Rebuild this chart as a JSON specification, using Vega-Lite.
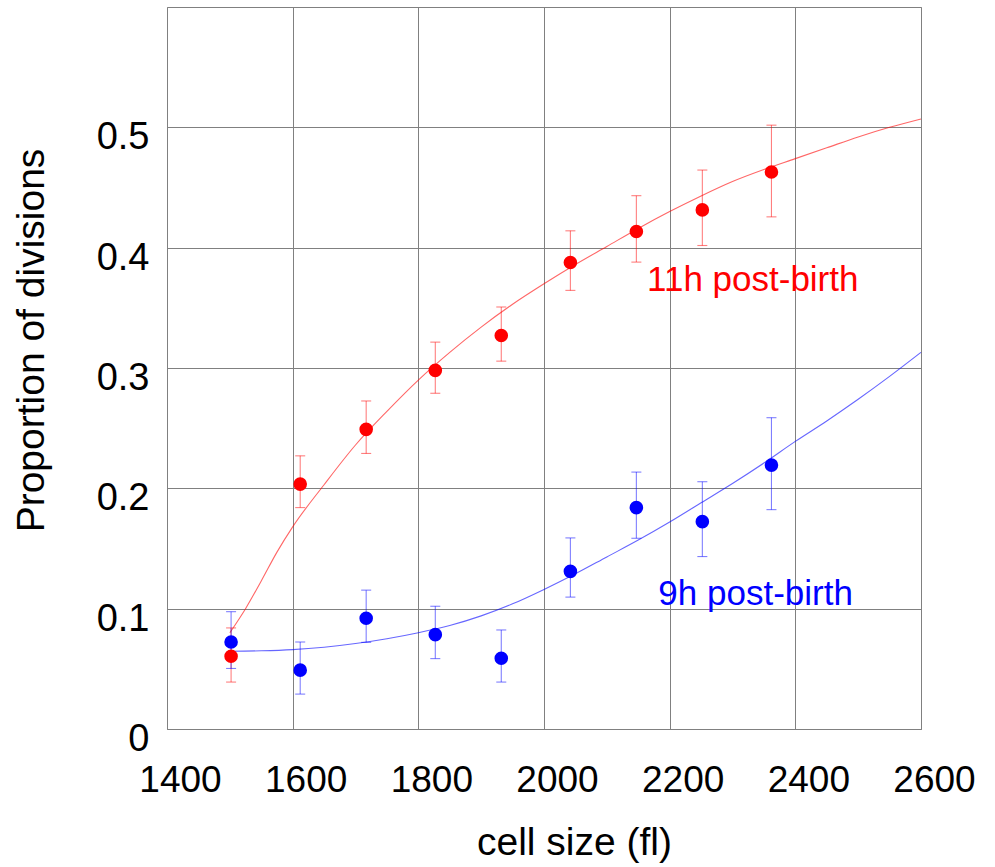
{
  "$schema": "https://vega.github.io/schema/vega-lite/v6.json",
  "autosize": {"type": "none"},
  "padding": {"left": 167, "top": 7, "right": 74, "bottom": 138},
  "width": 754,
  "height": 722,
  "background": "white",
  "config": {
    "font": "Liberation Sans",
    "view": {"stroke": "#808080", "strokeWidth": 1},
    "axis": {"gridColor": "#808080", "gridOpacity": 1, "gridWidth": 1, "domain": false, "ticks": false, "tickSize": 0, "labelColor": "#000", "titleColor": "#000", "titleFontWeight": "normal"}
  },
  "datasets": {
    "points": [
      {"size": 1502, "prop": 0.0605, "lo": 0.039, "hi": 0.084, "series": "11h"},
      {"size": 1612, "prop": 0.2035, "lo": 0.184, "hi": 0.227, "series": "11h"},
      {"size": 1717, "prop": 0.249, "lo": 0.229, "hi": 0.2726, "series": "11h"},
      {"size": 1827, "prop": 0.298, "lo": 0.279, "hi": 0.3215, "series": "11h"},
      {"size": 1932, "prop": 0.327, "lo": 0.3057, "hi": 0.3507, "series": "11h"},
      {"size": 2042, "prop": 0.3877, "lo": 0.3645, "hi": 0.414, "series": "11h"},
      {"size": 2147, "prop": 0.4134, "lo": 0.388, "hi": 0.4432, "series": "11h"},
      {"size": 2252, "prop": 0.4314, "lo": 0.4018, "hi": 0.4645, "series": "11h"},
      {"size": 2362, "prop": 0.4629, "lo": 0.4256, "hi": 0.5018, "series": "11h"},
      {"size": 1502, "prop": 0.0723, "lo": 0.0503, "hi": 0.0975, "series": "9h"},
      {"size": 1612, "prop": 0.0489, "lo": 0.029, "hi": 0.0723, "series": "9h"},
      {"size": 1717, "prop": 0.092, "lo": 0.072, "hi": 0.1154, "series": "9h"},
      {"size": 1827, "prop": 0.0784, "lo": 0.0585, "hi": 0.102, "series": "9h"},
      {"size": 1932, "prop": 0.0588, "lo": 0.039, "hi": 0.0823, "series": "9h"},
      {"size": 2042, "prop": 0.131, "lo": 0.1096, "hi": 0.1588, "series": "9h"},
      {"size": 2147, "prop": 0.184, "lo": 0.1585, "hi": 0.2135, "series": "9h"},
      {"size": 2252, "prop": 0.1723, "lo": 0.1433, "hi": 0.2055, "series": "9h"},
      {"size": 2362, "prop": 0.2193, "lo": 0.1823, "hi": 0.2587, "series": "9h"}
    ],
    "fits": [
      {"size": 1500, "prop": 0.08, "series": "11h"},
      {"size": 1525, "prop": 0.10, "series": "11h"},
      {"size": 1550, "prop": 0.123, "series": "11h"},
      {"size": 1575, "prop": 0.147, "series": "11h"},
      {"size": 1600, "prop": 0.168, "series": "11h"},
      {"size": 1650, "prop": 0.203, "series": "11h"},
      {"size": 1700, "prop": 0.236, "series": "11h"},
      {"size": 1750, "prop": 0.264, "series": "11h"},
      {"size": 1800, "prop": 0.29, "series": "11h"},
      {"size": 1850, "prop": 0.313, "series": "11h"},
      {"size": 1900, "prop": 0.334, "series": "11h"},
      {"size": 1950, "prop": 0.353, "series": "11h"},
      {"size": 2000, "prop": 0.37, "series": "11h"},
      {"size": 2050, "prop": 0.386, "series": "11h"},
      {"size": 2100, "prop": 0.401, "series": "11h"},
      {"size": 2150, "prop": 0.416, "series": "11h"},
      {"size": 2200, "prop": 0.43, "series": "11h"},
      {"size": 2250, "prop": 0.443, "series": "11h"},
      {"size": 2300, "prop": 0.455, "series": "11h"},
      {"size": 2350, "prop": 0.465, "series": "11h"},
      {"size": 2400, "prop": 0.474, "series": "11h"},
      {"size": 2450, "prop": 0.483, "series": "11h"},
      {"size": 2500, "prop": 0.492, "series": "11h"},
      {"size": 2550, "prop": 0.50, "series": "11h"},
      {"size": 2600, "prop": 0.507, "series": "11h"},
      {"size": 1500, "prop": 0.0646, "series": "9h"},
      {"size": 1550, "prop": 0.065, "series": "9h"},
      {"size": 1600, "prop": 0.066, "series": "9h"},
      {"size": 1650, "prop": 0.068, "series": "9h"},
      {"size": 1700, "prop": 0.071, "series": "9h"},
      {"size": 1750, "prop": 0.075, "series": "9h"},
      {"size": 1800, "prop": 0.080, "series": "9h"},
      {"size": 1850, "prop": 0.086, "series": "9h"},
      {"size": 1900, "prop": 0.094, "series": "9h"},
      {"size": 1950, "prop": 0.104, "series": "9h"},
      {"size": 2000, "prop": 0.116, "series": "9h"},
      {"size": 2050, "prop": 0.129, "series": "9h"},
      {"size": 2100, "prop": 0.143, "series": "9h"},
      {"size": 2150, "prop": 0.157, "series": "9h"},
      {"size": 2200, "prop": 0.172, "series": "9h"},
      {"size": 2250, "prop": 0.188, "series": "9h"},
      {"size": 2300, "prop": 0.204, "series": "9h"},
      {"size": 2350, "prop": 0.221, "series": "9h"},
      {"size": 2400, "prop": 0.239, "series": "9h"},
      {"size": 2450, "prop": 0.256, "series": "9h"},
      {"size": 2500, "prop": 0.274, "series": "9h"},
      {"size": 2550, "prop": 0.293, "series": "9h"},
      {"size": 2600, "prop": 0.313, "series": "9h"}
    ],
    "labels": [
      {"size": 2164, "prop": 0.3637, "text": "11h post-birth", "series": "11h"},
      {"size": 2182, "prop": 0.1027, "text": "9h post-birth", "series": "9h"}
    ]
  },
  "encoding": {
    "x": {
      "field": "size", "type": "quantitative",
      "scale": {"domain": [1400, 2600], "nice": false, "zero": false},
      "axis": {
        "values": [1400, 1600, 1800, 2000, 2200, 2400, 2600],
        "format": "d",
        "labelFontSize": 37, "labelOffset": 13, "labelBaseline": "alphabetic", "labelPadding": 62,
        "labelFlush": false, "labelOverlap": false,
        "title": "cell size (fl)", "titleFontSize": 39,
        "titleX": 407, "titleY": 125, "titleBaseline": "alphabetic", "titleAlign": "center"
      }
    },
    "y": {
      "field": "prop", "type": "quantitative",
      "scale": {"domain": [0, 0.6], "nice": false},
      "axis": {
        "values": [0, 0.1, 0.2, 0.3, 0.4, 0.5],
        "format": ".1~f",
        "labelFontSize": 38, "labelOffset": 21.5, "labelBaseline": "alphabetic", "labelPadding": 18,
        "labelFlush": false, "labelOverlap": false,
        "title": "Proportion of divisions", "titleFontSize": 39,
        "titleX": -124, "titleY": 333, "titleBaseline": "alphabetic", "titleAlign": "center", "titleAngle": -90
      }
    },
    "color": {
      "field": "series", "type": "nominal",
      "scale": {"domain": ["11h", "9h"], "range": ["#ff0000", "#0000ff"]},
      "legend": null
    }
  },
  "layer": [
    {
      "data": {"name": "fits"},
      "mark": {"type": "line", "strokeWidth": 1.1, "opacity": 0.6, "interpolate": "monotone"},
      "encoding": {"detail": {"field": "series"}}
    },
    {
      "data": {"name": "points"},
      "mark": {"type": "rule", "strokeWidth": 1.1, "opacity": 0.5},
      "encoding": {"y": {"field": "lo", "type": "quantitative"}, "y2": {"field": "hi"}}
    },
    {
      "data": {"name": "points"},
      "mark": {"type": "tick", "orient": "horizontal", "size": 10, "thickness": 1.1, "opacity": 0.5},
      "encoding": {"y": {"field": "lo", "type": "quantitative"}}
    },
    {
      "data": {"name": "points"},
      "mark": {"type": "tick", "orient": "horizontal", "size": 10, "thickness": 1.1, "opacity": 0.5},
      "encoding": {"y": {"field": "hi", "type": "quantitative"}}
    },
    {
      "data": {"name": "points"},
      "mark": {"type": "circle", "size": 185, "opacity": 1}
    },
    {
      "data": {"name": "labels"},
      "mark": {"type": "text", "align": "left", "baseline": "alphabetic", "fontSize": 35},
      "encoding": {"text": {"field": "text"}}
    }
  ]
}
